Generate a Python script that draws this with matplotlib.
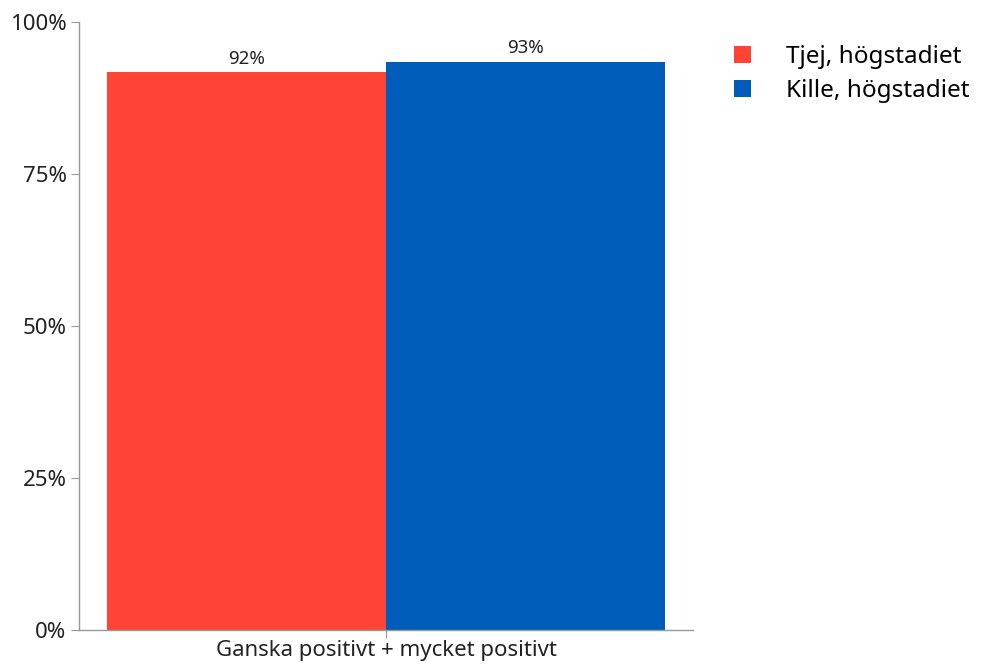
import matplotlib
matplotlib.use("Agg")
import matplotlib.pyplot as plt
from matplotlib.ticker import FuncFormatter

categories = ["Ganska positivt + mycket positivt"]
series_names = ["Tjej, högstadiet", "Kille, högstadiet"]
series_values = [[91.7], [93.4]]
value_labels = ["92%", "93%"]
colors = ["#FF4436", "#005CB9"]

plt.rcParams['font.family'] = ['Noto Sans', 'DejaVu Sans']

fig = plt.figure(figsize=(9.82, 6.64), dpi=100)
ax = fig.add_axes([79/982, 34/664, 614/982, 608/664])

bw = 0.4545
n = len(series_names)
handles = []
for i, (name, vals) in enumerate(zip(series_names, series_values)):
    xs = [c - bw * n / 2 + bw * (i + 0.5) for c in range(len(categories))]
    b = ax.bar(xs, vals, width=bw, color=colors[i], label=name)
    handles.append(b)
    for x, v, lab in zip(xs, vals, [value_labels[i]]):
        ax.text(x, v + 0.8, lab, ha='center', va='bottom', fontsize=13.5, color='#222222')

ax.set_xlim(-0.5, 0.5)
ax.set_ylim(0, 100)
ax.set_yticks([0, 25, 50, 75, 100])
ax.yaxis.set_major_formatter(FuncFormatter(lambda v, p: f"{int(v)}%"))
ax.set_xticks(range(len(categories)))
ax.set_xticklabels(categories)
ax.tick_params(axis='y', labelsize=16, length=6, color='#999999', labelcolor='#222222', pad=3)
ax.tick_params(axis='x', labelsize=16, length=6, color='#999999', labelcolor='#222222', pad=1)
for s in ['top', 'right']:
    ax.spines[s].set_visible(False)
for s in ['left', 'bottom']:
    ax.spines[s].set_color('#999999')
    ax.spines[s].set_linewidth(1)

fig.legend(handles=handles, labels=series_names, loc='upper left',
           bbox_to_anchor=(712/982, 1 - 23/664), frameon=False, fontsize=17.5,
           handlelength=0.7, handleheight=0.7, handletextpad=1.45, labelspacing=0.42)

fig.savefig("out.png", dpi=100)
